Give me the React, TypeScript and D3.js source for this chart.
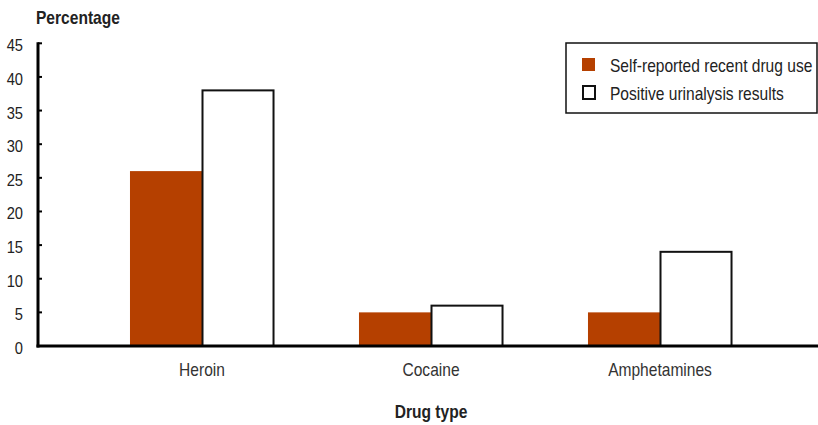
import { useMemo } from "react";
import * as d3 from "d3";

const categories = ["Heroin", "Cocaine", "Amphetamines"];
const seriesNames = ["Self-reported recent drug use", "Positive urinalysis results"];
const selfReported = [26, 5, 5];
const urinalysis = [38, 6, 14];
const yTickValues = [0, 5, 10, 15, 20, 25, 30, 35, 40, 45];

const WIDTH = 818;
const HEIGHT = 425;
const RED = "#b54000";
const FONT = "'Liberation Sans', Arial, sans-serif";
const SQUEEZE = 0.865;

function NarrowText({
  x,
  y,
  anchor = "start",
  bold = false,
  size = 18,
  fill = "#222",
  children,
}: {
  x: number;
  y: number;
  anchor?: "start" | "middle" | "end";
  bold?: boolean;
  size?: number;
  fill?: string;
  children: React.ReactNode;
}) {
  return (
    <text
      transform={`translate(${x},${y}) scale(${SQUEEZE},1)`}
      textAnchor={anchor}
      fontFamily={FONT}
      fontSize={size}
      fontWeight={bold ? "bold" : "normal"}
      fill={fill}
    >
      {children}
    </text>
  );
}

export default function App() {
  const plot = { left: 38, right: 818, top: 43.3, bottom: 346 };

  const yScale = useMemo(
    () => d3.scaleLinear().domain([0, 45]).range([plot.bottom, plot.top]),
    []
  );

  const xScale = useMemo(
    () =>
      d3
        .scaleBand()
        .domain(categories)
        .range([87.5, 774.5])
        .paddingInner(0.371)
        .paddingOuter(0.1855),
    []
  );

  const subScale = d3
    .scaleBand()
    .domain(seriesNames)
    .range([0, xScale.bandwidth()])
    .padding(0);

  const rows = categories.flatMap((cat, i) => [
    { cat, series: seriesNames[0], value: selfReported[i] },
    { cat, series: seriesNames[1], value: urinalysis[i] },
  ]);

  return (
    <svg
      width={WIDTH}
      height={HEIGHT}
      style={{ position: "fixed", left: 0, top: 0, background: "#fff" }}
    >
      <rect width={WIDTH} height={HEIGHT} fill="#fff" />

      {/* Y axis title */}
      <NarrowText x={36} y={24} bold>
        Percentage
      </NarrowText>

      {/* Bars */}
      {rows.map((d) => {
        const x = (xScale(d.cat) || 0) + (subScale(d.series) || 0);
        const y = yScale(d.value);
        const w = subScale.bandwidth();
        const h = yScale(0) - y;
        const filled = d.series === seriesNames[0];
        return filled ? (
          <rect key={`${d.cat}-${d.series}`} x={x} y={y} width={w} height={h} fill={RED} />
        ) : (
          <rect
            key={`${d.cat}-${d.series}`}
            x={x + 0.5}
            y={y}
            width={w - 1}
            height={h}
            fill="#fff"
            stroke="#111"
            strokeWidth={2}
          />
        );
      })}

      {/* Y axis */}
      <line x1={plot.left} x2={plot.left} y1={plot.top - 1} y2={plot.bottom + 1.5} stroke="#000" strokeWidth={3} />
      {yTickValues.map((t) => (
        <g key={t}>
          <line x1={plot.left} x2={plot.left + 4} y1={yScale(t)} y2={yScale(t)} stroke="#000" strokeWidth={2} />
          <NarrowText x={23} y={yScale(t) + 8} anchor="end" size={17}>
            {t}
          </NarrowText>
        </g>
      ))}

      {/* X axis */}
      <line x1={plot.left - 1.5} x2={plot.right} y1={plot.bottom} y2={plot.bottom} stroke="#000" strokeWidth={3} />
      {categories.map((cat) => (
        <NarrowText
          key={cat}
          x={(xScale(cat) || 0) + xScale.bandwidth() / 2}
          y={376}
          anchor="middle"
          fill="#333"
        >
          {cat}
        </NarrowText>
      ))}
      <NarrowText x={431} y={418} anchor="middle" bold>
        Drug type
      </NarrowText>

      {/* Legend */}
      <rect x={566} y={43} width={251} height={70} fill="#fff" stroke="#111" strokeWidth={1.5} />
      <rect x={582} y={58} width={13} height={13} fill={RED} />
      <rect x={583} y={86} width={12} height={13} fill="#fff" stroke="#111" strokeWidth={2} />
      <NarrowText x={610} y={71.5}>
        {seriesNames[0]}
      </NarrowText>
      <NarrowText x={610} y={100}>
        {seriesNames[1]}
      </NarrowText>
    </svg>
  );
}
